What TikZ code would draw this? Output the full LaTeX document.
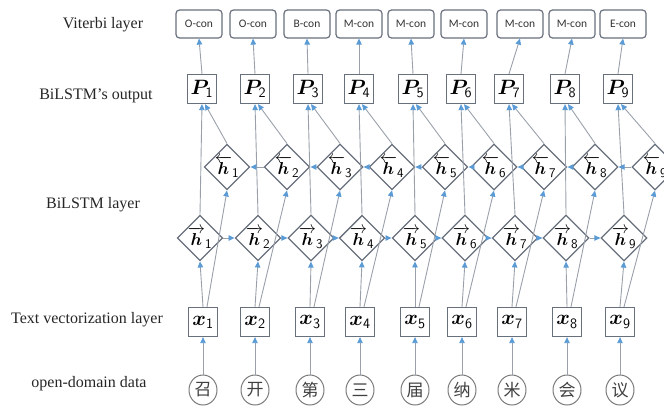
\documentclass[tikz,border=0pt]{standalone}
\usepackage{amsmath,bm}
\usepackage{fontspec}
\setmainfont{Liberation Serif}
\newfontfamily\cjkfont{Noto Sans CJK SC}
\newfontfamily\calfont{Carlito}
\usetikzlibrary{shapes.geometric,arrows.meta}
\definecolor{boxgray}{HTML}{68707C}
\definecolor{linegray}{HTML}{9AA0AA}
\definecolor{circgray}{HTML}{7A7A7A}
\definecolor{tipblue}{HTML}{5B9BD5}
\begin{document}
\begin{tikzpicture}[x=1pt,y=-1pt,
  layerlab/.style={anchor=base, font=\fontsize{16}{18}\selectfont, text=black!85},
  vbox/.style={draw=boxgray, rounded corners=3.5pt, minimum width=46, minimum height=28, inner sep=0pt, line width=1.2pt, font=\calfont\fontsize{11.5}{13}\selectfont, text=black!80},
  pbox/.style={draw=boxgray, minimum width=29, minimum height=29, inner sep=0pt, line width=1.3pt, font=\fontsize{20.5}{22}\selectfont},
  hdia/.style={diamond, aspect=1, draw=boxgray, minimum width=42, minimum height=42, inner sep=0pt, line width=1.3pt, font=\fontsize{19}{20}\selectfont},
  wcirc/.style={ellipse, draw=circgray, minimum width=28, minimum height=30, inner sep=0pt, line width=1pt, font=\cjkfont\fontsize{17}{18}\selectfont, text=black!75},
  conn/.style={draw=linegray, line width=0.9pt, -{Triangle[length=6pt,width=5.5pt,color=tipblue]}}
]
\useasboundingbox (0,0) rectangle (664,405);

% layer labels
\node[layerlab] (l1) at (103,28) {Viterbi layer};
\node[layerlab] (l2) at (96,99) {BiLSTM’s output};
\node[layerlab] (l3) at (93,208) {BiLSTM layer};
\node[layerlab] (l4) at (87,323) {Text vectorization layer};
\node[layerlab] (l5) at (89,387) {open-domain data};

% columns: index / input x / forward h x / backward h x / P x / viterbi x / tag / char
\foreach \i/\cx/\fx/\bx/\px/\vx/\tg/\ch in {
  1/203/200/227/202/199/O/召,
  2/255/258/287/255/253/O/开,
  3/310/311/340/308/307/B/第,
  4/360/362/392/359/359/M/三,
  5/415/415/445/413/411/M/届,
  6/462/465/494/461/464/M/纳,
  7/512/515/544/509/520/M/米,
  8/567/566/595/565/572/M/会,
  9/620/624/655/618/623/E/议}{
  \node[wcirc] (c\i) at (\cx,390) {\ch};
  \node[pbox] (x\i) at (\cx,322) {$\bm{x}_{\mathsf{\i}}$};
  \node[hdia] (f\i) at (\fx,238) {$\overrightarrow{\bm{h}}_{\mathsf{\i}}$};
  \node[hdia] (b\i) at (\bx,167) {$\overleftarrow{\bm{h}}_{\mathsf{\i}}$};
  \node[pbox] (p\i) at (\px,89) {$\bm{P}_{\mathsf{\i}}$};
  \node[vbox] (v\i) at (\vx,24) {\tg-con};
}

\foreach \i in {1,...,9}{
  \draw[conn] (c\i.north) -- (x\i.south);
  \draw[conn] (x\i.north) -- (f\i.south);
  \draw[conn] ([xshift=4pt]x\i.north) -- (b\i.south);
  \draw[conn] (f\i.north) -- (p\i.south);
  \draw[conn] (b\i.north) -- ([xshift=3pt]p\i.south);
  \draw[conn] (p\i.north) -- (v\i.south);
}
\foreach \i [evaluate=\i as \j using int(\i+1)] in {1,...,8}{
  \draw[conn] (f\i.east) -- (f\j.west);
  \draw[conn] (b\j.west) -- (b\i.east);
}
\end{tikzpicture}
\end{document}
